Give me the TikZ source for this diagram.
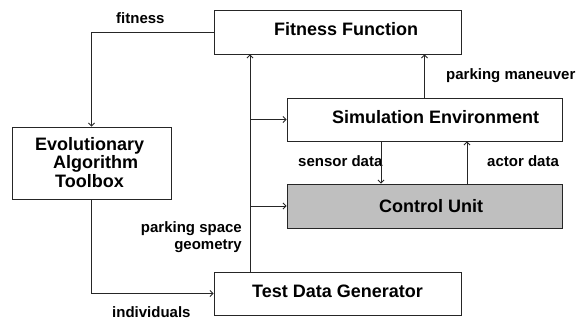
\documentclass[tikz,border=0pt]{standalone}
\usepackage{fontspec}
\setmainfont{Liberation Sans}
\usetikzlibrary{arrows.meta}
\tikzset{
  block/.style={draw=black!85, line width=0.9pt, inner sep=0pt, anchor=center},
  title/.style={anchor=base west, inner sep=0pt, font=\fontsize{18}{20}\selectfont\bfseries},
  tag/.style={anchor=base west, inner sep=0pt, font=\fontsize{15}{17}\selectfont\bfseries},
  flow/.style={line width=0.8pt, draw=black!85, -{Straight Barb[length=3pt,width=6pt]}}
}
\begin{document}
\begin{tikzpicture}[x=1pt,y=-1pt]
\useasboundingbox (0,0) rectangle (578,320);

% boxes
\node[block, minimum width=247pt, minimum height=44pt] (ff) at (337.5,32) {};
\node[block, minimum width=275pt, minimum height=43pt] (se) at (424.5,119.5) {};
\node[block, fill=black!25, minimum width=275pt, minimum height=44pt] (cu) at (424.5,206) {};
\node[block, minimum width=247pt, minimum height=43pt] (tdg) at (337.5,293.5) {};
\node[block, minimum width=159pt, minimum height=72pt] (ea) at (91.5,163) {};

% box titles
\node[title] (ffT) at (274,36) {Fitness Function};
\node[title] (seT) at (332,124) {Simulation Environment};
\node[title] (cuT) at (379,213) {Control Unit};
\node[title] (tdgT) at (252,298) {Test Data Generator};
\node[title] (eaT1) at (35,151) {Evolutionary};
\node[title] (eaT2) at (53,169) {Algorithm};
\node[title] (eaT3) at (55,188) {Toolbox};

% connector labels
\node[tag] (lfit) at (116,24) {fitness};
\node[tag] (lman) at (446,80) {parking maneuver};
\node[tag] (lsen) at (298,167) {sensor data};
\node[tag] (lact) at (487,167) {actor data};
\node[tag, anchor=base east] (lgeo1) at (242,233) {parking space};
\node[tag, anchor=base east] (lgeo2) at (242,250) {geometry};
\node[tag] (lind) at (112,317) {individuals};

% x positions of the vertical connectors
\coordinate (trunk) at (250,0);
\coordinate (sens) at (381,0);
\coordinate (act) at (467,0);

% connectors
\draw[flow] (ff.west) -| (ea.north);
\draw[flow] (ea.south) |- (tdg.west);
\draw[flow] (tdg.north -| trunk) -- (ff.south -| trunk);
\draw[flow] (se.west -| trunk) -- (se.west);
\draw[flow] (cu.west -| trunk) -- (cu.west);
\draw[flow] (se.north) -- (se.north |- ff.south);
\draw[flow] (se.south -| sens) -- (cu.north -| sens);
\draw[flow] (cu.north -| act) -- (se.south -| act);
\end{tikzpicture}
\end{document}
